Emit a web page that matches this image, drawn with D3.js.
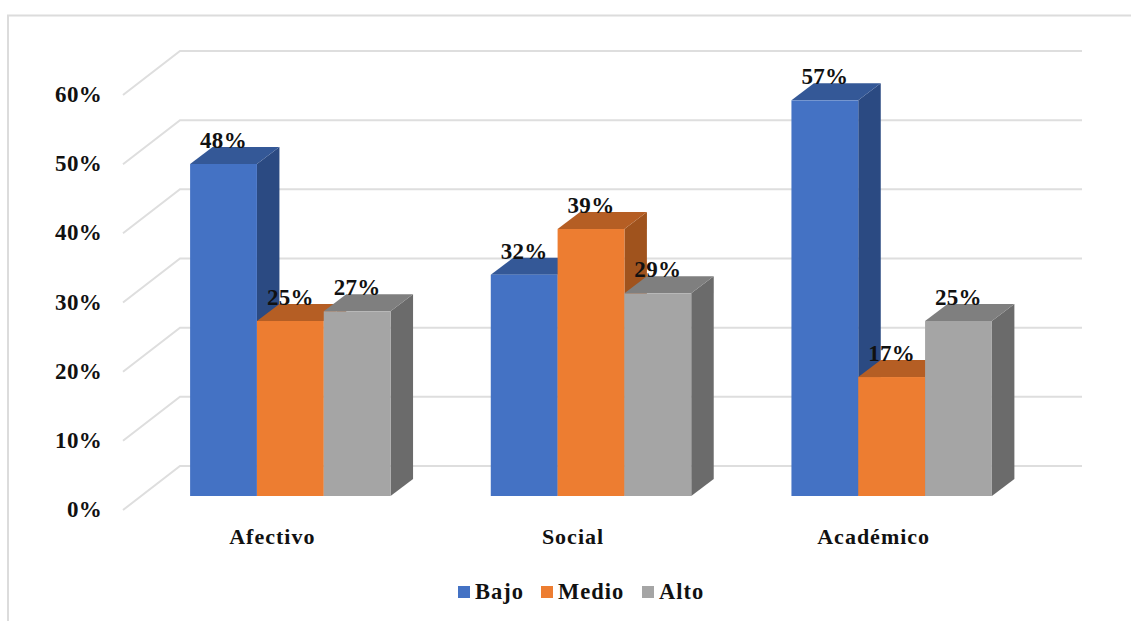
<!DOCTYPE html>
<html>
<head>
<meta charset="utf-8">
<script src="https://cdn.jsdelivr.net/npm/d3@7"></script>
<style>
  html, body { margin: 0; padding: 0; background: #fff; }
  svg { display: block; }
  text { font-family: "Liberation Serif", serif; font-weight: bold; fill: #111; }
</style>
</head>
<body>
<div class="chart"></div>
<script>
var categories = ["Afectivo", "Social", "Académico"];
var seriesNames = ["Bajo", "Medio", "Alto"];
var bajo = [0.48, 0.32, 0.572];
var medio = [0.253, 0.386, 0.172];
var alto = [0.267, 0.293, 0.253];
var ticks = [0, 0.1, 0.2, 0.3, 0.4, 0.5, 0.6];

var frontColors = ["#4472c4", "#ed7d31", "#a5a5a5"];
var topColors = ["#345897", "#b55e24", "#7f7f7f"];
var sideColors = ["#2b4a82", "#a0531d", "#6b6b6b"];

var w = 1131, h = 621;

var svg = d3.select("div.chart").append("svg")
    .attr("width", w)
    .attr("height", h)
    .attr("viewBox", `0 0 ${w} ${h}`);

//front plane of the 3d box
var x0 = d3.scaleBand().domain(categories).range([123, 1025]).paddingInner(1/3).paddingOuter(1/6);
var x1 = d3.scaleBand().domain(seriesNames).range([0, x0.bandwidth()]);
var y = d3.scaleLinear().domain([0, 0.6]).range([510, 95]);

var wall = {dx: 57, dy: -44};    //depth of the whole box
var shift = {dx: 17, dy: -14};   //where the bars stand in the box
var depth = {dx: 22.5, dy: -17}; //depth of one bar
var pct = d3.format(".0%");

//frame of the screenshot
svg.append("path")
    .attr("d", "M8,621V15.5H1131")
    .attr("fill", "none")
    .attr("stroke", "#dcdcdc")
    .attr("stroke-width", 2);

//gridlines along the side wall and back wall
svg.append("g").selectAll("path")
    .data(ticks)
    .join("path")
    .attr("d", d => `M${x0.range()[0]},${y(d)}l${wall.dx},${wall.dy}H${x0.range()[1] + wall.dx}`)
    .attr("fill", "none")
    .attr("stroke", "#dedede")
    .attr("stroke-width", 2);

//y labels
svg.append("g").selectAll("text")
    .data(ticks)
    .join("text")
    .attr("x", 102)
    .attr("y", d => y(d) + 7)
    .attr("text-anchor", "end")
    .style("font-size", "23px")
    .style("letter-spacing", "0.3px")
    .text(d => pct(d));

var rows = [bajo, medio, alto];
var bars = [];
categories.forEach(function(cat, c){
    seriesNames.forEach(function(name, s){
        bars.push({cat: cat, name: name, s: s, value: rows[s][c]});
    });
});

function bx(d){ return x0(d.cat) + x1(d.name) + shift.dx; }
function by(d){ return y(d.value) + shift.dy; }

var barGroups = svg.append("g").selectAll("g")
    .data(bars)
    .join("g");

barGroups.append("path")
    .attr("fill", d => sideColors[d.s])
    .attr("d", function(d){
        var r = bx(d) + x1.bandwidth();
        return `M${r},${by(d)}l${depth.dx},${depth.dy}V${y(0) + shift.dy + depth.dy}l${-depth.dx},${-depth.dy}Z`;
    });

barGroups.append("path")
    .attr("fill", d => topColors[d.s])
    .attr("d", d => `M${bx(d)},${by(d)}l${depth.dx},${depth.dy}h${x1.bandwidth()}l${-depth.dx},${-depth.dy}Z`);

barGroups.append("rect")
    .attr("fill", d => frontColors[d.s])
    .attr("x", d => bx(d))
    .attr("y", d => by(d))
    .attr("width", x1.bandwidth())
    .attr("height", d => y(0) - y(d.value));

//value labels sit on top of every bar
svg.append("g").selectAll("text")
    .data(bars)
    .join("text")
    .attr("x", d => bx(d) + x1.bandwidth() / 2)
    .attr("y", d => by(d) - 16)
    .attr("text-anchor", "middle")
    .style("font-size", "23px")
    .style("letter-spacing", "0.3px")
    .text(d => pct(d.value));

//category labels
svg.append("g").selectAll("text")
    .data(categories)
    .join("text")
    .attr("x", d => x0(d) + x0.bandwidth() / 2 - 1)
    .attr("y", 544)
    .attr("text-anchor", "middle")
    .style("font-size", "22px")
    .style("letter-spacing", "1px")
    .text(d => d);

//legend
var legendX = d3.scaleOrdinal().domain(seriesNames).range([458, 541, 642]);
var legend = svg.append("g").selectAll("g")
    .data(seriesNames)
    .join("g")
    .attr("transform", d => `translate(${legendX(d)},586)`);

legend.append("rect")
    .attr("width", 12)
    .attr("height", 12)
    .attr("fill", (d, i) => frontColors[i]);

legend.append("text")
    .attr("x", 17)
    .attr("y", 13)
    .style("font-size", "22.5px")
    .style("letter-spacing", "1px")
    .text(d => d);
</script>
</body>
</html>
